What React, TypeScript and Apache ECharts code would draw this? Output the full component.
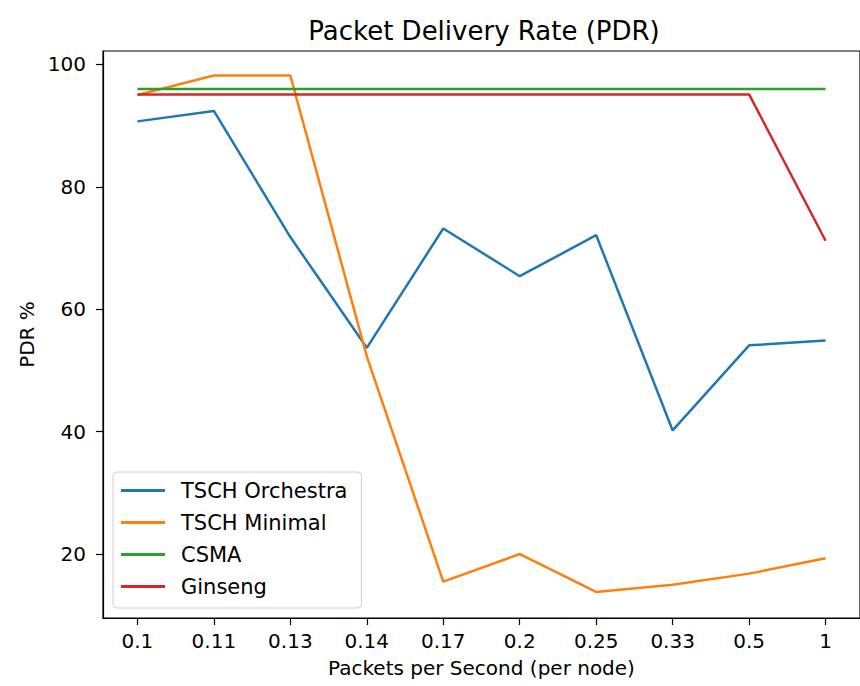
import React, { useEffect, useRef } from "react";
import * as echarts from "echarts";

const categories = ["0.1", "0.11", "0.13", "0.14", "0.17", "0.2", "0.25", "0.33", "0.5", "1"];
const orchestra = [90.7, 92.4, 71.8, 53.7, 73.2, 65.4, 72.1, 40.2, 54.1, 54.9];
const minimal = [95.0, 98.2, 98.2, 52.3, 15.5, 20.0, 13.8, 15.0, 16.8, 19.3];
const csma = [96.0, 96.0, 96.0, 96.0, 96.0, 96.0, 96.0, 96.0, 96.0, 96.0];
const ginseng = [95.1, 95.1, 95.1, 95.1, 95.1, 95.1, 95.1, 95.1, 95.1, 71.2];
const yTicks = [20, 40, 60, 80, 100];

const seriesDefs = [
  { name: "TSCH Orchestra", values: orchestra, color: "#1f77b4" },
  { name: "TSCH Minimal", values: minimal, color: "#ff7f0e" },
  { name: "CSMA", values: csma, color: "#2ca02c" },
  { name: "Ginseng", values: ginseng, color: "#d62728" },
];

const FONT = "DejaVu Sans";

export default function App() {
  const ref = useRef<HTMLDivElement>(null);
  useEffect(() => {
    document.body.style.margin = "0";
    const chart = echarts.init(ref.current!, null, { renderer: "svg" });
    const idx = categories.map((_, i) => i);
    chart.setOption({
      animation: false,
      backgroundColor: "#fff",
      textStyle: { fontFamily: FONT },
      title: {
        text: "Packet Delivery Rate (PDR)",
        left: 479,
        top: 13,
        textAlign: "center",
        textStyle: { fontFamily: FONT, fontSize: 26, fontWeight: "normal", color: "#000" },
      },
      grid: {
        left: 103,
        top: 51,
        right: -5,
        bottom: 68,
        show: true,
        borderColor: "#000",
        borderWidth: 1.2,
        backgroundColor: "transparent",
      },
      legend: {
        orient: "vertical",
        left: 113,
        top: 472,
        padding: [8, 14, 11, 8],
        itemGap: 11,
        itemWidth: 44,
        itemHeight: 3,
        icon: "rect",
        backgroundColor: "rgba(255,255,255,0.8)",
        borderColor: "#cccccc",
        borderWidth: 1,
        borderRadius: 4,
        textStyle: {
          fontFamily: FONT,
          fontSize: 21,
          lineHeight: 20,
          color: "#000",
          padding: [0, 0, 0, 11],
        },
        data: seriesDefs.map((s) => s.name),
      },
      xAxis: {
        type: "value",
        min: -0.45,
        max: 9.45,
        name: "Packets per Second (per node)",
        nameLocation: "middle",
        nameGap: 40,
        nameTextStyle: { fontFamily: FONT, fontSize: 20, color: "#000" },
        axisLine: { show: true, onZero: false, lineStyle: { color: "#000", width: 1.2 } },
        axisTick: { show: true, customValues: idx, length: 7, lineStyle: { color: "#000", width: 1.2 } },
        axisLabel: {
          customValues: idx,
          formatter: (v: number) => categories[Math.round(v)] ?? "",
          fontFamily: FONT,
          fontSize: 20,
          color: "#000",
          margin: 13,
        },
        splitLine: { show: false },
      },
      yAxis: {
        type: "value",
        min: 9.55,
        max: 102.2,
        name: "PDR %",
        nameLocation: "middle",
        nameGap: 66,
        nameTextStyle: { fontFamily: FONT, fontSize: 20, color: "#000" },
        axisLine: { show: true, onZero: false, lineStyle: { color: "#000", width: 1.2 } },
        axisTick: { show: true, customValues: yTicks, length: 7, lineStyle: { color: "#000", width: 1.2 } },
        axisLabel: {
          customValues: yTicks,
          fontFamily: FONT,
          fontSize: 20,
          color: "#000",
          margin: 17,
        },
        splitLine: { show: false },
      },
      series: seriesDefs.map((s) => ({
        name: s.name,
        type: "line",
        data: s.values.map((v, i) => [i, v]),
        showSymbol: false,
        symbol: "none",
        lineStyle: { color: s.color, width: 2.5 },
        itemStyle: { color: s.color },
        z: 2,
      })),
    });
    return () => chart.dispose();
  }, []);
  return <div ref={ref} style={{ width: 860, height: 686 }} />;
}
